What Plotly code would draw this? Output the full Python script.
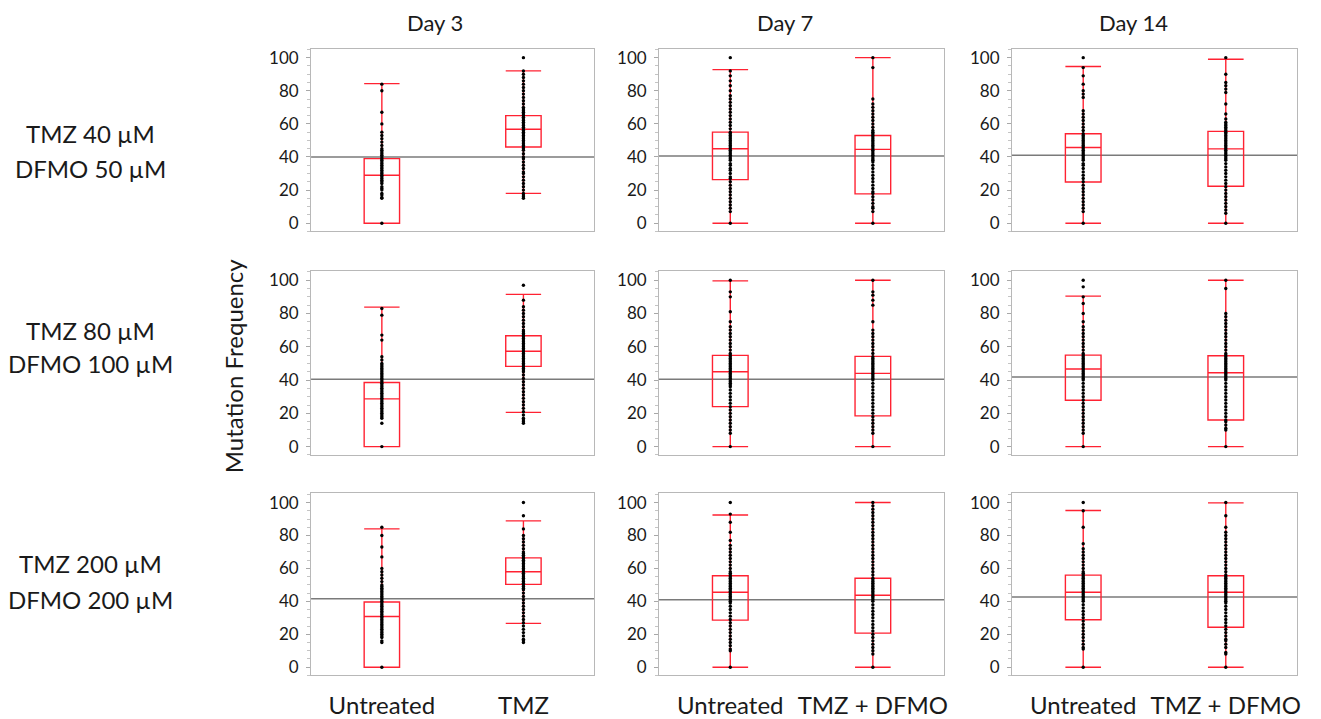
import plotly.graph_objects as go

# ---------------- data ----------------
days = ["Day 3", "Day 7", "Day 14"]
row_line1 = ["TMZ 40 µM", "TMZ 80 µM", "TMZ 200 µM"]
row_line2 = ["DFMO 50 µM", "DFMO 100 µM", "DFMO 200 µM"]
cats_day3 = ["Untreated", "TMZ"]
cats_later = ["Untreated", "TMZ + DFMO"]
y_ticks = [0, 20, 40, 60, 80, 100]

# box statistics per panel [row][col] -> (group A, group B)
q1 = [[(0, 46), (26.3, 17.7), (24.9, 22.3)],
      [(0, 48.2), (24, 18.5), (27.9, 16)],
      [(0, 50.3), (28.6, 20.7), (28.8, 24.3)]]
median = [[(29, 56.8), (45, 44.6), (45.7, 44.9)],
          [(28.7, 57.3), (45, 44), (46.6, 44.4)],
          [(30.8, 58), (45.5, 43.7), (45.5, 45.5)]]
q3 = [[(39, 65), (55, 53), (54, 55.5)],
      [(38.5, 66.6), (54.8, 54.2), (55, 54.6)],
      [(39.6, 66.4), (55.5, 54), (55.9, 55.5)]]
lower_whisker = [[(0, 18), (0, 0), (0, 0)],
                 [(0, 20.6), (0, 0), (0, 0)],
                 [(0, 26.6), (0, 0), (0, 0)]]
upper_whisker = [[(84.3, 92), (92.8, 100), (94.7, 99)],
                 [(83.8, 91.5), (99.6, 100), (90.4, 100)],
                 [(84, 88.9), (92.4, 100), (95.2, 99.8)]]
ref_values = [[40, 40.6, 41.1],
              [40.5, 40.5, 41.8],
              [41.5, 41, 42.7]]

pts_r1_d3_a = [0, 15, 15.5, 17, 18, 20, 21, 22, 24, 25, 26, 27, 28, 29, 30, 31, 32, 33, 34, 35, 36, 37, 38, 39, 40,
               41, 42, 43, 44, 45, 47, 49, 51, 53, 55, 60, 67, 80, 84]
pts_r1_d3_b = [15, 16, 17, 18, 20, 22, 24, 26, 28, 30, 31, 33, 35, 37, 39, 40, 42, 44, 45, 46, 47, 48, 49, 50, 51,
               52, 53, 54, 55, 56, 57, 58, 59, 60, 61, 62, 63, 64, 65, 66, 67, 68, 69, 70, 72, 74, 76, 78, 80, 82,
               84, 86, 88, 90, 92, 100]
pts_r1_d7_a = [0, 7, 9, 11, 13, 15, 17, 19, 21, 23, 25, 27, 28, 30, 32, 33, 35, 36, 38, 39, 40, 41, 42, 43, 44, 45,
               46, 47, 48, 49, 50, 51, 52, 53, 54, 55, 57, 59, 61, 63, 65, 67, 69, 71, 73, 75, 77, 80, 83, 86, 89,
               92, 100]
pts_r1_d7_b = [0, 7, 9, 10, 12, 14, 16, 18, 19, 21, 23, 25, 27, 29, 31, 33, 35, 37, 38, 39, 40, 41, 42, 43, 44, 45,
               46, 47, 48, 49, 50, 51, 52, 53, 54, 55, 56, 58, 60, 62, 64, 66, 68, 70, 72, 75, 94, 100]
pts_r1_d14_a = [0, 7, 9, 11, 13, 15, 17, 19, 21, 23, 25, 27, 29, 31, 33, 35, 36, 38, 39, 40, 41, 42, 43, 44, 45, 46,
                47, 48, 49, 50, 51, 52, 53, 54, 56, 58, 60, 62, 64, 66, 68, 76, 78, 80, 84, 89, 94, 100]
pts_r1_d14_b = [0, 6, 8, 10, 12, 14, 16, 18, 20, 22, 24, 26, 28, 30, 32, 34, 36, 38, 39, 40, 41, 42, 43, 44, 45, 46,
                47, 48, 49, 50, 51, 52, 53, 54, 55, 56, 57, 58, 59, 60, 61, 63, 66, 72, 79, 81, 83, 85, 90, 100]
pts_r2_d3_a = [0, 14, 17, 18, 19, 20, 21, 22, 23, 24, 25, 26, 27, 28, 29, 30, 31, 32, 33, 34, 35, 36, 37, 38, 39,
               40, 41, 42, 43, 44, 45, 46, 47, 48, 49, 50, 52, 54, 64, 67, 79, 83]
pts_r2_d3_b = [14, 15, 16, 17, 19, 21, 23, 25, 27, 29, 31, 33, 35, 37, 39, 41, 43, 45, 46, 47, 48, 49, 50, 51, 52,
               53, 54, 55, 56, 57, 58, 59, 60, 61, 62, 63, 64, 65, 66, 67, 68, 69, 70, 72, 74, 76, 78, 80, 82, 84,
               88, 97]
pts_r2_d7_a = [0, 8, 10, 12, 14, 16, 18, 20, 22, 24, 26, 28, 30, 32, 34, 36, 37, 38, 39, 40, 41, 42, 43, 44, 45, 46,
               47, 48, 49, 50, 51, 52, 53, 54, 55, 56, 58, 60, 62, 64, 66, 68, 70, 72, 75, 81, 90, 93, 100]
pts_r2_d7_b = [0, 8, 10, 12, 14, 16, 18, 20, 22, 24, 26, 28, 30, 32, 34, 36, 38, 40, 41, 42, 43, 44, 45, 46, 47, 48,
               49, 50, 51, 52, 53, 54, 56, 58, 60, 62, 64, 66, 68, 70, 75, 85, 88, 91, 93, 100]
pts_r2_d14_a = [0, 8, 10, 12, 14, 16, 18, 20, 22, 24, 26, 28, 30, 32, 34, 36, 38, 40, 41, 42, 43, 44, 45, 46, 47, 48,
                49, 50, 51, 52, 53, 54, 55, 56, 58, 60, 62, 64, 66, 68, 70, 72, 75, 80, 86, 90, 96, 100]
pts_r2_d14_b = [0, 10, 11, 13, 15, 16, 18, 20, 22, 24, 26, 28, 30, 32, 34, 36, 38, 40, 41, 42, 43, 44, 45, 46, 47, 48,
                49, 50, 51, 52, 53, 54, 55, 56, 58, 60, 62, 64, 66, 68, 70, 72, 74, 76, 78, 80, 95, 100]
pts_r3_d3_a = [0, 15, 16, 18, 19, 20, 21, 22, 23, 24, 25, 26, 27, 28, 29, 30, 31, 32, 33, 34, 35, 36, 37, 38, 39, 40,
               41, 42, 43, 44, 45, 46, 47, 48, 49, 50, 52, 54, 56, 58, 60, 67, 73, 80, 85]
pts_r3_d3_b = [15, 16, 17, 19, 21, 23, 25, 27, 29, 31, 33, 35, 37, 39, 41, 43, 45, 47, 48, 49, 50, 51, 52, 53, 54,
               55, 56, 57, 58, 59, 60, 61, 62, 63, 64, 65, 66, 67, 68, 69, 70, 72, 74, 76, 78, 80, 84, 92, 100]
pts_r3_d7_a = [0, 10, 11, 13, 15, 17, 19, 21, 23, 25, 27, 29, 31, 33, 35, 37, 39, 40, 41, 42, 43, 44, 45, 46, 47, 48,
               49, 50, 51, 52, 53, 54, 55, 56, 57, 58, 60, 62, 64, 66, 68, 70, 72, 74, 77, 82, 88, 93, 100]
pts_r3_d7_b = [0, 8, 10, 12, 14, 16, 18, 20, 22, 24, 26, 28, 30, 32, 34, 36, 38, 40, 41, 42, 43, 44, 45, 46, 47, 48,
               49, 50, 51, 52, 53, 54, 56, 58, 60, 62, 64, 66, 68, 70, 72, 74, 76, 78, 80, 82, 84, 86, 88, 90, 92,
               94, 96, 98, 100]
pts_r3_d14_a = [0, 11, 12, 14, 16, 18, 20, 22, 24, 26, 28, 30, 32, 34, 36, 38, 40, 41, 42, 43, 44, 45, 46, 47, 48,
                49, 50, 51, 52, 53, 54, 55, 56, 57, 58, 60, 62, 64, 66, 68, 70, 72, 75, 85, 95, 100]
pts_r3_d14_b = [0, 8, 9, 12, 14, 16, 17, 19, 21, 23, 25, 27, 29, 31, 33, 35, 37, 39, 40, 41, 42, 43, 44, 45, 46, 47,
                48, 49, 50, 51, 52, 53, 54, 55, 56, 58, 60, 62, 64, 66, 68, 70, 72, 74, 76, 78, 80, 82, 85, 92, 100]

points = [[(pts_r1_d3_a, pts_r1_d3_b), (pts_r1_d7_a, pts_r1_d7_b), (pts_r1_d14_a, pts_r1_d14_b)],
          [(pts_r2_d3_a, pts_r2_d3_b), (pts_r2_d7_a, pts_r2_d7_b), (pts_r2_d14_a, pts_r2_d14_b)],
          [(pts_r3_d3_a, pts_r3_d3_b), (pts_r3_d7_a, pts_r3_d7_b), (pts_r3_d14_a, pts_r3_d14_b)]]

# ---------------- layout geometry ----------------
# the page body adds an 8 px margin, so the figure is 8 px smaller and
# all window-pixel positions are shifted by 8 px
OFF = 8
W, H = 1321 - OFF, 719 - OFF
FONT = "Lato"


def fx(px):
    return (px - OFF) / W


def fy(py):
    return 1 - (py - OFF) / H


col_px = [(312, 596), (661, 947), (1015, 1301)]
row_px = [(47, 232), (272, 458), (497, 681)]
RED = "#ff2232"
FRAME = "#b8b8b8"

fig = go.Figure()
layout = dict(
    width=W, height=H, margin=dict(l=0, r=0, t=0, b=0),
    paper_bgcolor="white", plot_bgcolor="white", showlegend=False,
    font=dict(family=FONT, color="#1a1a1a"),
)
shapes = []
annotations = []

for r in range(3):
    for c in range(3):
        idx = r * 3 + c + 1
        sfx = "" if idx == 1 else str(idx)
        xa, ya = "x" + sfx, "y" + sfx
        cats = cats_day3 if c == 0 else cats_later
        fig.add_trace(go.Box(
            x=cats, q1=list(q1[r][c]), median=list(median[r][c]), q3=list(q3[r][c]),
            lowerfence=list(lower_whisker[r][c]), upperfence=list(upper_whisker[r][c]),
            boxpoints=False, width=0.25, whiskerwidth=1,
            line=dict(color=RED, width=1.4), fillcolor="rgba(0,0,0,0)",
            xaxis=xa, yaxis=ya, hoverinfo="skip",
        ))
        for k in range(2):
            vals = points[r][c][k]
            fig.add_trace(go.Scatter(
                x=[cats[k]] * len(vals), y=vals, mode="markers",
                marker=dict(color="black", size=3.4, line=dict(width=0)),
                xaxis=xa, yaxis=ya, hoverinfo="skip",
            ))
        shapes.append(dict(type="line", xref=xa + " domain", yref=ya, x0=0, x1=1,
                           y0=ref_values[r][c], y1=ref_values[r][c],
                           line=dict(color="#7a7a7a", width=1.5), layer="below"))
        x0, x1 = col_px[c]
        y0, y1 = row_px[r]
        layout["xaxis" + sfx] = dict(
            domain=[fx(x0), fx(x1)], anchor=ya, type="category",
            categoryorder="array", categoryarray=cats, range=[-0.5, 1.5],
            showline=True, mirror=True, linecolor=FRAME, linewidth=1,
            ticks="", showgrid=False, zeroline=False,
            showticklabels=(r == 2), ticklabelstandoff=9,
            tickfont=dict(size=24, family=FONT, color="#1a1a1a"),
        )
        layout["yaxis" + sfx] = dict(
            domain=[fy(y1), fy(y0)], anchor=xa,
            range=[-5, 105.5], tickvals=y_ticks,
            showline=True, mirror=True, linecolor=FRAME, linewidth=1,
            ticks="outside", ticklen=4, tickcolor="#a8a8a8", tickwidth=1,
            minor=dict(dtick=5, tick0=0, ticks="outside", ticklen=3, tickcolor="#c4c4c4", showgrid=False),
            showgrid=False, zeroline=False, ticklabelstandoff=4,
            tickfont=dict(size=17, family=FONT, color="#1a1a1a"),
        )

# column titles
title_x = [436, 787, 1137]
for c in range(3):
    annotations.append(dict(text=days[c], x=fx(title_x[c]), y=fy(21), xref="paper", yref="paper",
                            showarrow=False, xanchor="center", yanchor="middle",
                            font=dict(size=22, family=FONT, color="#1a1a1a")))
# row labels
line1_y = [133, 332, 568]
line2_y = [168, 366, 604]
for r in range(3):
    annotations.append(dict(text=row_line1[r], x=fx(91), y=fy(line1_y[r]), xref="paper", yref="paper",
                            showarrow=False, xanchor="center", yanchor="middle",
                            font=dict(size=24, family=FONT, color="#1a1a1a")))
    annotations.append(dict(text=row_line2[r], x=fx(91), y=fy(line2_y[r]), xref="paper", yref="paper",
                            showarrow=False, xanchor="center", yanchor="middle",
                            font=dict(size=24, family=FONT, color="#1a1a1a")))
# y-axis title
annotations.append(dict(text="Mutation Frequency", x=fx(235), y=fy(368), xref="paper", yref="paper",
                        showarrow=False, xanchor="center", yanchor="middle", textangle=-90,
                        font=dict(size=24, family=FONT, color="#1a1a1a")))

layout["shapes"] = shapes
layout["annotations"] = annotations
fig.update_layout(**layout)
fig.write_html("out.html")
